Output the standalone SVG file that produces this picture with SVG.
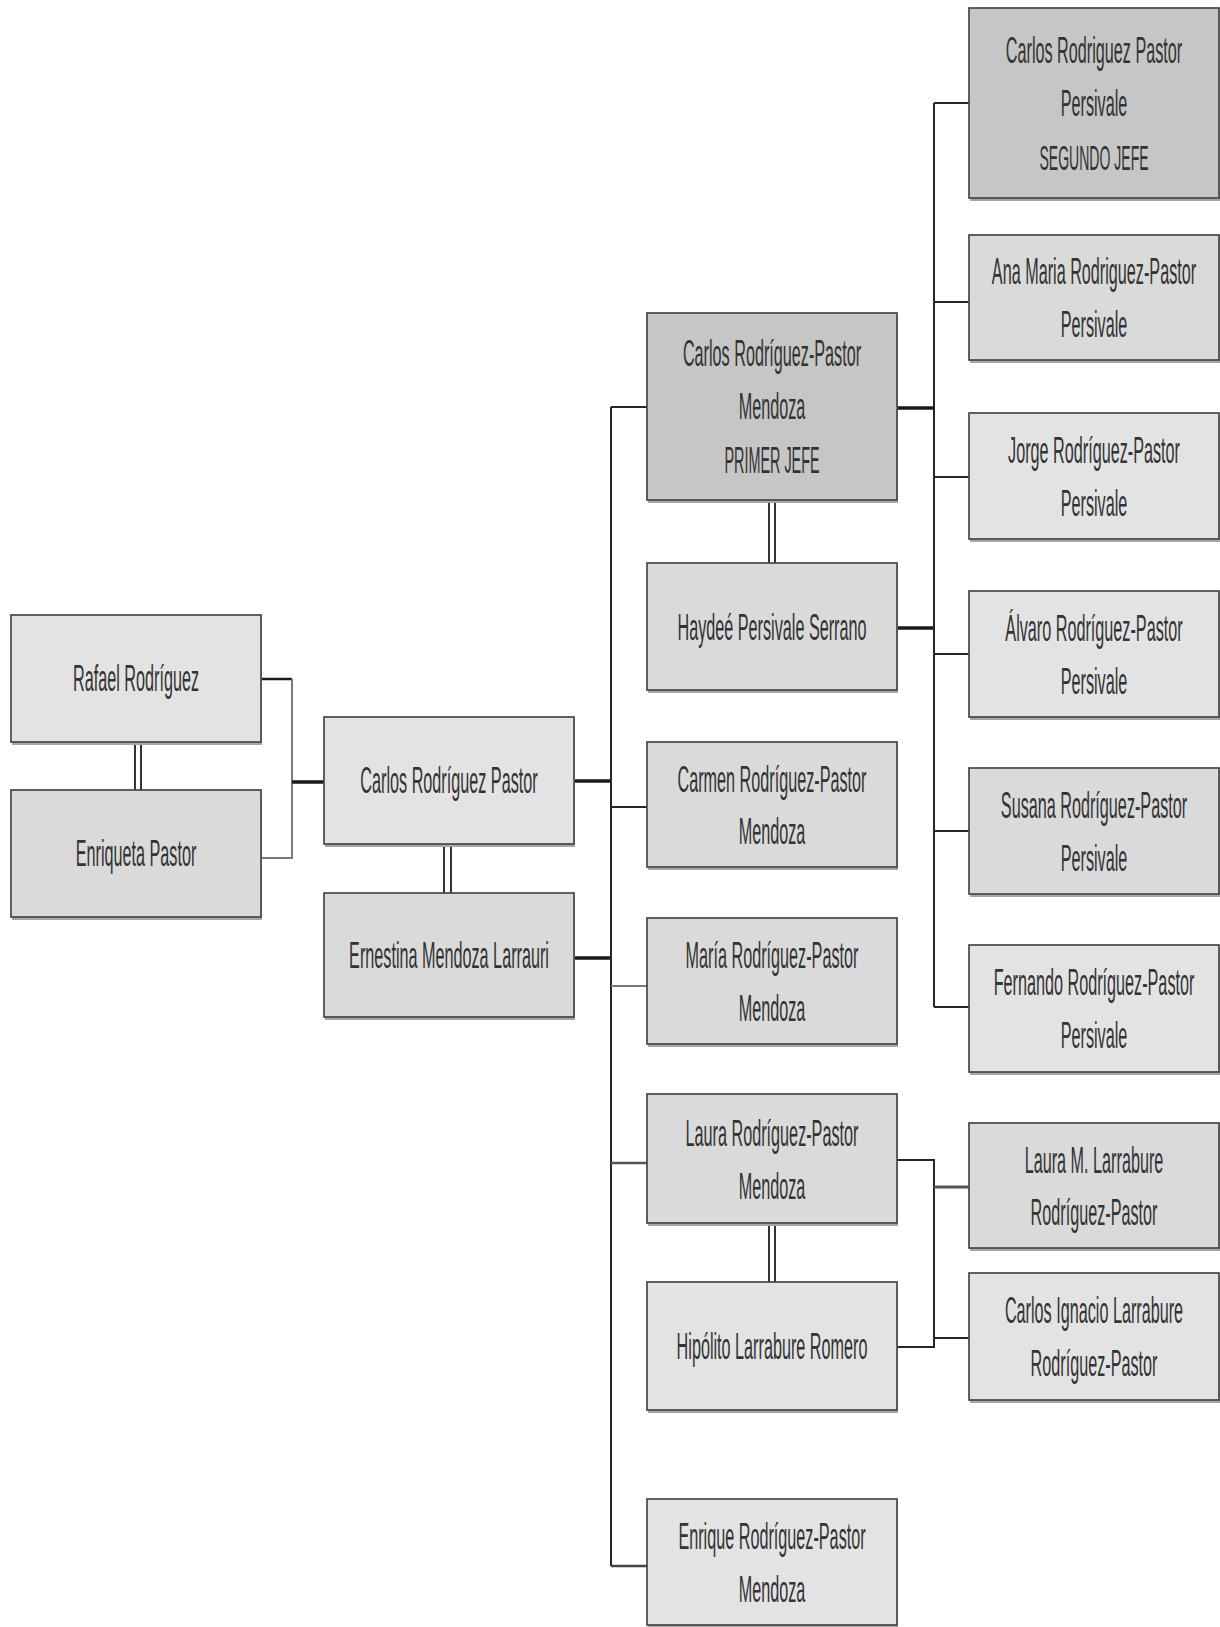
<svg xmlns="http://www.w3.org/2000/svg" width="1220" height="1627" viewBox="0 0 1220 1627">
  <style>
    .box { stroke: #474747; stroke-width: 1.7; }
    .shadow { fill: #a6a6a6; }
    .light { fill: #e3e3e3; }
    .mid { fill: #dadada; }
    .dark { fill: #c6c6c6; }
    .lbl { font-family: "Liberation Sans", Arial, sans-serif; font-size: 36px; fill: #333333; text-anchor: middle; }
    .ln { stroke: #262626; stroke-width: 2; fill: none; }
    .thick { stroke: #1a1a1a; stroke-width: 3.5; fill: none; }
    .soft { stroke: #7a7a7a; stroke-width: 2; fill: none; }
    .dbl { stroke: #333; stroke-width: 2; fill: none; }
  </style>
  <rect width="1220" height="1627" fill="#ffffff"/>

  <!-- connectors -->
  <g id="connectors">
    <!-- Rafael + Enriqueta to son -->
    <path class="thick" d="M261 679 H292" style="stroke-width:2.5"/>
    <path class="soft" d="M292 679 V858 H261"/>
    <path class="thick" d="M292 782 H324"/>
    <path class="dbl" d="M135 742 V790 M141 742 V790"/>
    <!-- Carlos Rodriguez Pastor + Ernestina -->
    <path class="dbl" d="M444 844 V893 M451 844 V893"/>
    <path class="thick" d="M573 781 H611"/>
    <path class="thick" d="M573 958 H611"/>
    <path class="ln" d="M611 407 V1566"/>
    <path class="ln" d="M611 407 H647"/>
    <path class="ln" d="M611 807 H647"/>
    <path class="soft" d="M611 986 H647"/>
    <path class="ln" d="M611 1163 H647" style="stroke:#555;stroke-width:2.5"/>
    <path class="ln" d="M611 1566 H647" style="stroke:#444;stroke-width:2.5"/>
    <!-- Primer jefe + Haydee -->
    <path class="dbl" d="M769 500 V563 M775 500 V563"/>
    <path class="thick" d="M897 408 H934"/>
    <path class="thick" d="M897 628 H934"/>
    <path class="ln" d="M934 103 V1007"/>
    <path class="ln" d="M934 103 H969"/>
    <path class="ln" d="M934 302 H969"/>
    <path class="ln" d="M934 477 H969"/>
    <path class="ln" d="M934 654 H969"/>
    <path class="ln" d="M934 831 H969"/>
    <path class="ln" d="M934 1007 H969"/>
    <!-- Laura + Hipolito -->
    <path class="dbl" d="M769 1223 V1282 M775 1223 V1282"/>
    <path class="ln" d="M897 1160 H934 V1347 H897"/>
    <path class="ln" d="M934 1187 H969" style="stroke:#555;stroke-width:3"/>
    <path class="ln" d="M934 1338 H969"/>
  </g>

  <!-- generation 1 -->
  <g id="rafael">
    <rect class="shadow" x="12" y="618" width="250" height="127"/>
    <rect class="box light" x="11" y="615" width="250" height="127"/>
    <text class="lbl" transform="translate(136 691) scale(0.45 1)">Rafael Rodríguez</text>
  </g>
  <g id="enriqueta">
    <rect class="shadow" x="12" y="793" width="250" height="127"/>
    <rect class="box mid" x="11" y="790" width="250" height="127"/>
    <text class="lbl" transform="translate(136 866) scale(0.45 1)">Enriqueta Pastor</text>
  </g>

  <!-- generation 2 -->
  <g id="carlos-rodriguez-pastor">
    <rect class="shadow" x="325" y="720" width="250" height="127"/>
    <rect class="box light" x="324" y="717" width="250" height="127"/>
    <text class="lbl" transform="translate(449 793) scale(0.45 1)">Carlos Rodríguez Pastor</text>
  </g>
  <g id="ernestina">
    <rect class="shadow" x="325" y="896" width="250" height="124"/>
    <rect class="box mid" x="324" y="893" width="250" height="124"/>
    <text class="lbl" transform="translate(449 968) scale(0.45 1)">Ernestina Mendoza Larrauri</text>
  </g>

  <!-- generation 3 -->
  <g id="primer-jefe">
    <rect class="shadow" x="648" y="316" width="250" height="187"/>
    <rect class="box dark" x="647" y="313" width="250" height="187"/>
    <text class="lbl" transform="translate(772 366) scale(0.45 1)">Carlos Rodríguez-Pastor</text>
    <text class="lbl" transform="translate(772 419) scale(0.45 1)">Mendoza</text>
    <text class="lbl" transform="translate(772 473) scale(0.4 1)">PRIMER JEFE</text>
  </g>
  <g id="haydee">
    <rect class="shadow" x="648" y="566" width="250" height="127"/>
    <rect class="box mid" x="647" y="563" width="250" height="127"/>
    <text class="lbl" transform="translate(772 640) scale(0.45 1)">Haydeé Persivale Serrano</text>
  </g>
  <g id="carmen">
    <rect class="shadow" x="648" y="745" width="250" height="125"/>
    <rect class="box mid" x="647" y="742" width="250" height="125"/>
    <text class="lbl" transform="translate(772 792) scale(0.45 1)">Carmen Rodríguez-Pastor</text>
    <text class="lbl" transform="translate(772 844) scale(0.45 1)">Mendoza</text>
  </g>
  <g id="maria">
    <rect class="shadow" x="648" y="921" width="250" height="126"/>
    <rect class="box mid" x="647" y="918" width="250" height="126"/>
    <text class="lbl" transform="translate(772 968) scale(0.45 1)">María Rodríguez-Pastor</text>
    <text class="lbl" transform="translate(772 1021) scale(0.45 1)">Mendoza</text>
  </g>
  <g id="laura">
    <rect class="shadow" x="648" y="1097" width="250" height="129"/>
    <rect class="box mid" x="647" y="1094" width="250" height="129"/>
    <text class="lbl" transform="translate(772 1146) scale(0.45 1)">Laura Rodríguez-Pastor</text>
    <text class="lbl" transform="translate(772 1199) scale(0.45 1)">Mendoza</text>
  </g>
  <g id="hipolito">
    <rect class="shadow" x="648" y="1285" width="250" height="128"/>
    <rect class="box light" x="647" y="1282" width="250" height="128"/>
    <text class="lbl" transform="translate(772 1359) scale(0.45 1)">Hipólito Larrabure Romero</text>
  </g>
  <g id="enrique">
    <rect class="shadow" x="648" y="1502" width="250" height="125"/>
    <rect class="box light" x="647" y="1499" width="250" height="126"/>
    <text class="lbl" transform="translate(772 1549) scale(0.45 1)">Enrique Rodríguez-Pastor</text>
    <text class="lbl" transform="translate(772 1602) scale(0.45 1)">Mendoza</text>
  </g>

  <!-- generation 4 -->
  <g id="segundo-jefe">
    <rect class="shadow" x="970" y="11" width="250" height="190"/>
    <rect class="box dark" x="969" y="8" width="250" height="190"/>
    <text class="lbl" transform="translate(1094 63) scale(0.45 1)">Carlos Rodriguez Pastor</text>
    <text class="lbl" transform="translate(1094 116) scale(0.45 1)">Persivale</text>
    <text class="lbl" transform="translate(1094 170) scale(0.39 1)">SEGUNDO JEFE</text>
  </g>
  <g id="ana-maria">
    <rect class="shadow" x="970" y="238" width="250" height="125"/>
    <rect class="box mid" x="969" y="235" width="250" height="125"/>
    <text class="lbl" transform="translate(1094 284) scale(0.45 1)">Ana Maria Rodriguez-Pastor</text>
    <text class="lbl" transform="translate(1094 337) scale(0.45 1)">Persivale</text>
  </g>
  <g id="jorge">
    <rect class="shadow" x="970" y="416" width="250" height="126"/>
    <rect class="box light" x="969" y="413" width="250" height="126"/>
    <text class="lbl" transform="translate(1094 463) scale(0.45 1)">Jorge Rodríguez-Pastor</text>
    <text class="lbl" transform="translate(1094 516) scale(0.45 1)">Persivale</text>
  </g>
  <g id="alvaro">
    <rect class="shadow" x="970" y="594" width="250" height="126"/>
    <rect class="box light" x="969" y="591" width="250" height="126"/>
    <text class="lbl" transform="translate(1094 641) scale(0.45 1)">Álvaro Rodríguez-Pastor</text>
    <text class="lbl" transform="translate(1094 694) scale(0.45 1)">Persivale</text>
  </g>
  <g id="susana">
    <rect class="shadow" x="970" y="771" width="250" height="126"/>
    <rect class="box mid" x="969" y="768" width="250" height="126"/>
    <text class="lbl" transform="translate(1094 818) scale(0.45 1)">Susana Rodríguez-Pastor</text>
    <text class="lbl" transform="translate(1094 871) scale(0.45 1)">Persivale</text>
  </g>
  <g id="fernando">
    <rect class="shadow" x="970" y="948" width="250" height="127"/>
    <rect class="box light" x="969" y="945" width="250" height="127"/>
    <text class="lbl" transform="translate(1094 995) scale(0.45 1)">Fernando Rodríguez-Pastor</text>
    <text class="lbl" transform="translate(1094 1048) scale(0.45 1)">Persivale</text>
  </g>
  <g id="laura-m">
    <rect class="shadow" x="970" y="1126" width="250" height="125"/>
    <rect class="box mid" x="969" y="1123" width="250" height="125"/>
    <text class="lbl" transform="translate(1094 1173) scale(0.45 1)">Laura M. Larrabure</text>
    <text class="lbl" transform="translate(1094 1225) scale(0.45 1)">Rodríguez-Pastor</text>
  </g>
  <g id="carlos-ignacio">
    <rect class="shadow" x="970" y="1276" width="250" height="127"/>
    <rect class="box light" x="969" y="1273" width="250" height="127"/>
    <text class="lbl" transform="translate(1094 1323) scale(0.45 1)">Carlos Ignacio Larrabure</text>
    <text class="lbl" transform="translate(1094 1376) scale(0.45 1)">Rodríguez-Pastor</text>
  </g>
</svg>
